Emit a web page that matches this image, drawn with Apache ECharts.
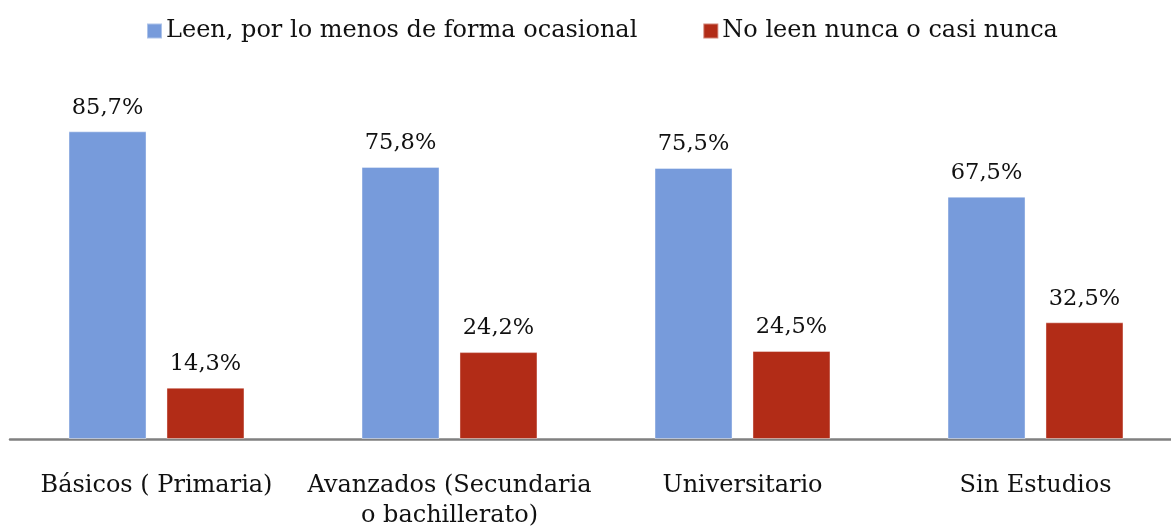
<!DOCTYPE html>
<html>
<head>
<meta charset="utf-8">
<script src="https://cdn.jsdelivr.net/npm/echarts@6/dist/echarts.min.js"></script>
<style>
html, body { margin: 0; padding: 0; background: #fff; overflow: hidden; }
#main { width: 1182px; height: 531px; }
</style>
</head>
<body>
<div id="main"></div>
<script>
var categorias = ['Básicos ( Primaria)', 'Avanzados (Secundaria\no bachillerato)', 'Universitario', 'Sin Estudios'];
var leen = [85.7, 75.8, 75.5, 67.5];
var noLeen = [14.3, 24.2, 24.5, 32.5];
var nombres = ['Leen, por lo menos de forma ocasional', 'No leen nunca o casi nunca'];
var colores = ['#779bdb', '#b22c17'];

var fuente = '"DejaVu Serif", "Liberation Serif", serif';

function etiqueta(p) {
  return p.value.toFixed(1).replace('.', ',') + '%';
}

var mychart = echarts.init(document.getElementById('main'));
var option = {
  animation: false,
  color: colores,
  textStyle: { fontFamily: fuente },
  legend: {
    top: 14,
    left: 141,
    itemWidth: 15,
    itemHeight: 15,
    itemGap: 65,
    icon: 'rect',
    textStyle: { fontFamily: fuente, fontSize: 24, color: '#111', padding: [0, 0, 0, -1] },
    data: nombres
  },
  grid: { left: 10, right: 0, top: 80, bottom: 88, containLabel: false },
  xAxis: {
    type: 'category',
    data: categorias,
    axisTick: { show: false },
    axisLine: { lineStyle: { color: '#808080', width: 2.5 } },
    axisLabel: {
      interval: 0,
      margin: 32,
      fontFamily: fuente,
      fontSize: 24,
      color: '#111',
      lineHeight: 30
    }
  },
  yAxis: {
    type: 'value',
    min: 0,
    max: 100,
    show: false,
    splitLine: { show: false }
  },
  series: [
    {
      name: nombres[0],
      type: 'bar',
      data: leen,
      barWidth: 78,
      barGap: '25.6%',
      itemStyle: { borderColor: 'rgba(255,255,255,0.4)', borderWidth: 1 },
      label: { show: true, position: 'top', distance: 12, formatter: etiqueta, fontFamily: fuente, fontSize: 22.5, color: '#111' }
    },
    {
      name: nombres[1],
      type: 'bar',
      data: noLeen,
      barWidth: 78,
      itemStyle: { borderColor: 'rgba(255,255,255,0.4)', borderWidth: 1 },
      label: { show: true, position: 'top', distance: 12, formatter: etiqueta, fontFamily: fuente, fontSize: 22.5, color: '#111' }
    }
  ]
};
mychart.setOption(option);
</script>
</body>
</html>
